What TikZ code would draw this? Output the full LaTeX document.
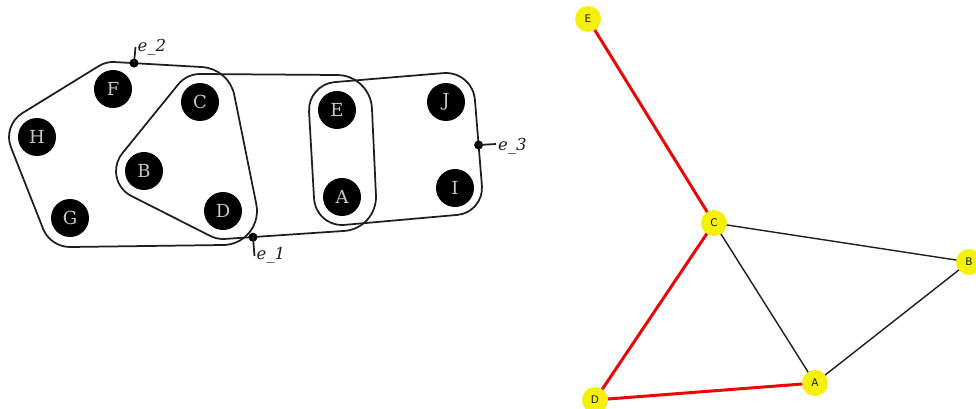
\documentclass[tikz,border=0pt]{standalone}
\usepackage{fontspec}
\setmainfont{DejaVu Serif}
\newfontfamily\labsans{DejaVu Sans}
\usetikzlibrary{calc}
\definecolor{edgec}{RGB}{30,30,30}
\definecolor{labgray}{RGB}{200,200,200}
\definecolor{nxyellow}{RGB}{245,240,10}
\definecolor{nxred}{RGB}{232,8,8}
\pgfdeclarelayer{bg}
\pgfsetlayers{bg,main}
\begin{document}
\begin{tikzpicture}[x=1pt,y=-1pt,
  hnode/.style={circle,fill=black,minimum size=38pt,inner sep=0pt,text=labgray,font=\fontsize{18}{18}\selectfont},
  hedge/.style={draw=edgec,line width=1.75pt},
  hdot/.style={circle,fill=black,minimum size=9pt,inner sep=0pt},
  elabel/.style={font=\fontsize{16.5}{16.5}\selectfont\itshape,text=edgec,inner sep=0pt},
  gnode/.style={circle,fill=nxyellow,minimum size=26pt,inner sep=0pt,font=\labsans\fontsize{10.5}{10.5}\selectfont,text=edgec},
  redge/.style={draw=nxred,line width=3pt},
  kedge/.style={draw=edgec,line width=1.4pt}]
\useasboundingbox (0,0) rectangle (976,409);

% ---------- hypergraph nodes ----------
\node[hnode] (F) at (113,89) {F};
\node[hnode] (H) at (37,137) {H};
\node[hnode] (G) at (70,218) {G};
\node[hnode] (C) at (200,102) {C};
\node[hnode] (B) at (144,171) {B};
\node[hnode] (D) at (223,211) {D};
\node[hnode] (E) at (337,110) {E};
\node[hnode] (A) at (342,197) {A};
\node[hnode] (J) at (446,102) {J};
\node[hnode] (I) at (455,188) {I};

% ---------- e_2 : F C D G H ----------
\draw[hedge] ($(F.center)+(-86.72:27)$) -- ($(C.center)+(-86.72:35)$)
  arc[start angle=-86.72,end angle=-11.41,radius=35]
  -- ($(D.center)+(-11.41:34)$) arc[start angle=-11.41,end angle=89.25,radius=34]
  -- ($(G.center)+(89.25:29)$) arc[start angle=89.25,end angle=158.49,radius=29]
  -- ($(H.center)+(158.49:28)$) arc[start angle=158.49,end angle=238.36,radius=28]
  -- ($(F.center)+(238.36:27)$) arc[start angle=238.36,end angle=273.28,radius=27]
  -- cycle;

% ---------- e_1 : C E A D B ----------
\draw[hedge] ($(C.center)+(-89.58:28)$) -- ($(E.center)+(-89.58:35)$)
  arc[start angle=-89.58,end angle=-2.63,radius=35]
  -- ($(A.center)+(-2.63:34)$) arc[start angle=-2.63,end angle=86.16,radius=34]
  -- ($(D.center)+(86.16:28)$) arc[start angle=86.16,end angle=116.85,radius=28]
  -- ($(B.center)+(116.85:28)$) arc[start angle=116.85,end angle=219.06,radius=28]
  -- ($(C.center)+(219.06:28)$) arc[start angle=219.06,end angle=270.42,radius=28]
  -- cycle;

% ---------- e_3 : E J I A ----------
\draw[hedge] ($(E.center)+(-94.72:28)$) -- ($(J.center)+(-94.72:29)$)
  arc[start angle=-94.72,end angle=-4.64,radius=29]
  -- ($(I.center)+(-4.64:27)$) arc[start angle=-4.64,end angle=84.94,radius=27]
  -- ($(A.center)+(84.94:28)$) arc[start angle=84.94,end angle=176.71,radius=28]
  -- ($(E.center)+(176.71:28)$) arc[start angle=176.71,end angle=265.28,radius=28]
  -- cycle;

% ---------- edge labels ----------
\node[hdot] (d2) at (134,63.1) {};
\coordinate (t2) at (135.5,47);
\draw[hedge] (d2.center) -- (t2);
\node[elabel,anchor=base west] (l2) at (137.5,51.5) {e\_2};

\node[hdot] (d1) at (253,237.2) {};
\coordinate (t1) at (254.5,256);
\draw[hedge] (d1.center) -- (t1);
\node[elabel,anchor=base west] (l1) at (256.5,259.5) {e\_1};

\node[hdot] (d3) at (478.6,145) {};
\coordinate (t3) at (496,144);
\draw[hedge] (d3.center) -- (t3);
\node[elabel,anchor=base west] (l3) at (498,150) {e\_3};

% ---------- right graph ----------
\node[gnode] (nE) at (588,19) {E};
\node[gnode] (nC) at (714,223) {C};
\node[gnode] (nB) at (969,262) {B};
\node[gnode] (nA) at (815,383) {A};
\node[gnode] (nD) at (595,400) {D};
\begin{pgfonlayer}{bg}
\draw[kedge] (nC.center) -- (nB.center);
\draw[kedge] (nC.center) -- (nA.center);
\draw[kedge] (nA.center) -- (nB.center);
\draw[redge] (nE.center) -- (nC.center);
\draw[redge] (nC.center) -- (nD.center);
\draw[redge] (nD.center) -- (nA.center);
\end{pgfonlayer}
\end{tikzpicture}
\end{document}
